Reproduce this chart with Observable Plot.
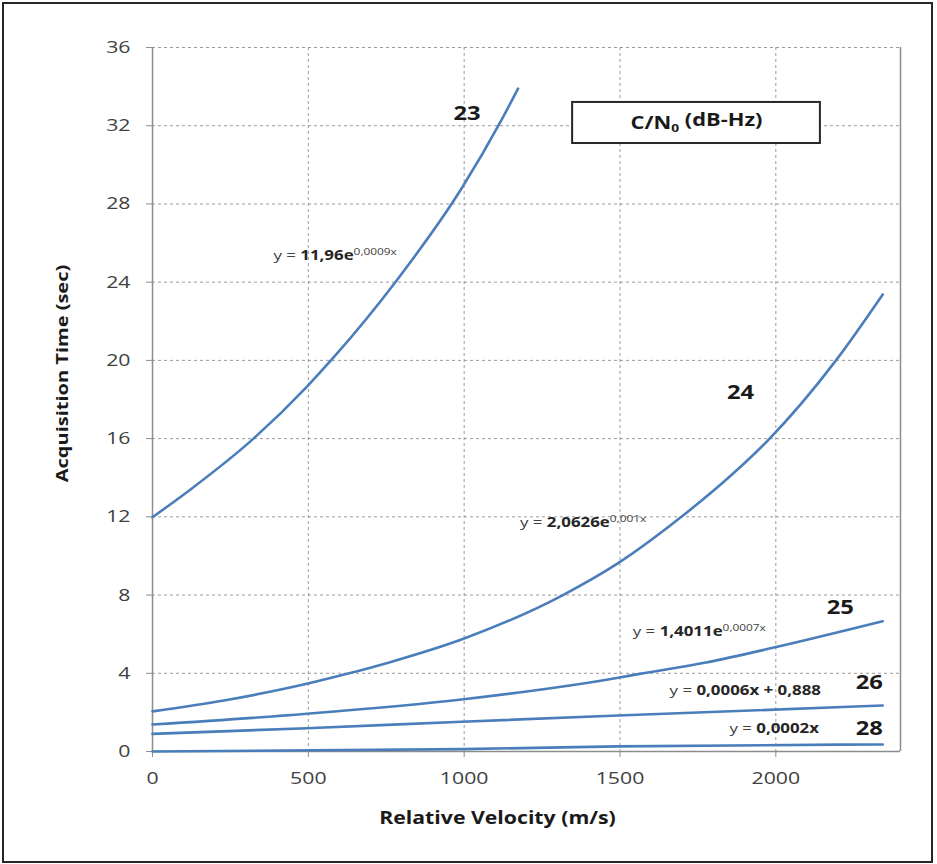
<!DOCTYPE html>
<html>
<head>
<meta charset="utf-8">
<script src="https://cdn.jsdelivr.net/npm/d3@7"></script>
<script src="https://cdn.jsdelivr.net/npm/@observablehq/plot@0.6"></script>
<style>
  html, body { margin: 0; padding: 0; background: #fff; }
  #wrap { position: relative; width: 937px; height: 864px; }
  #frame { position: absolute; left: 2px; top: 2px; width: 927px; height: 857px; border: 2px solid #262626; pointer-events: none; }
</style>
</head>
<body>
<div id="wrap"><div id="frame"></div></div>
<script>
// ---- data ----
const seriesNames = ["23", "24", "25", "26", "28"];
const vel23 = [0, 122, 324, 495, 581, 784, 992, 1120, 1173];
const time23 = [11.98, 13.4, 16.0, 18.65, 20.15, 24.1, 28.8, 32.3, 33.9];
const vel24 = [0, 229, 495, 624, 762, 1000, 1317, 1494, 1697, 1862, 1974, 2193, 2343];
const time24 = [2.05, 2.61, 3.46, 3.97, 4.57, 5.78, 8.0, 9.63, 12.0, 14.2, 15.9, 20.0, 23.37];
const vel25 = [0, 495, 992, 1494, 1563, 1776, 1990, 2343];
const time25 = [1.38, 1.93, 2.66, 3.77, 3.97, 4.55, 5.3, 6.66];
const vel26 = [0, 495, 992, 1494, 2343];
const time26 = [0.90, 1.19, 1.52, 1.84, 2.35];
const vel28 = [0, 992, 1494, 2343];
const time28 = [0, 0.12, 0.26, 0.36];

const xTicks = [0, 500, 1000, 1500, 2000];
const yTicks = [0, 4, 8, 12, 16, 20, 24, 28, 32, 36];

// series name labels (data coordinates)
const nameLabelX = [1009, 1887, 2207, 2300, 2300];
const nameLabelY = [32.6, 18.36, 7.36, 3.53, 1.18];

// trendline equations
const eqPrefix = ["y = ", "y = ", "y = ", "y = ", "y = "];
const eqMain = ["11,96e", "2,0626e", "1,4011e", "0,0006x + 0,888", "0,0002x"];
const eqSup = ["0,0009x", "0,001x", "0,0007x", "", ""];
const eqX = [388, 1179, 1541, 1659, 1851];
const eqY = [25.36, 11.71, 6.14, 3.12, 1.18];

const legendTitle = "C/N0 (dB-Hz)";
const legendX = [1348, 2143];
const legendY = [31.09, 33.19];

const xLabel = "Relative Velocity (m/s)";
const yLabel = "Acquisition Time (sec)";

// ---- build tidy table ----
const allV = [vel23, vel24, vel25, vel26, vel28];
const allT = [time23, time24, time25, time26, time28];
const rows = [];
seriesNames.forEach((s, k) => allV[k].forEach((v, i) => rows.push({series: s, v, t: allT[k][i]})));

const eqFull = eqPrefix.map((p, i) => p + eqMain[i] + eqSup[i]);
const idx5 = d3.range(5);

const FONT = "'Open Sans', Lato, sans-serif";
const blue = "#4a7ebb";

const chart = Plot.plot({
  width: 937,
  height: 864,
  marginLeft: 152,
  marginRight: 37,
  marginTop: 47,
  marginBottom: 113,
  style: {fontFamily: FONT, color: "#404040", background: "#fff"},
  x: {domain: [0, 2400]},
  y: {domain: [0, 36]},
  marks: [
    Plot.gridX(xTicks.filter(d => d > 0), {stroke: "#9a9a9a", strokeOpacity: 1, strokeDasharray: "3,3", strokeWidth: 1}),
    Plot.gridY(yTicks.filter(d => d > 0), {stroke: "#9a9a9a", strokeOpacity: 1, strokeDasharray: "3,3", strokeWidth: 1}),
    Plot.ruleX([2400], {stroke: "#8c8c8c", strokeWidth: 1.5}),
    Plot.ruleX([0], {stroke: "#8c8c8c", strokeWidth: 1.5}),
    Plot.ruleY([0], {stroke: "#8c8c8c", strokeWidth: 1.5}),
    Plot.axisX({ticks: xTicks, tickFormat: d => String(d), tickSize: 6, tickPadding: 14, fontSize: 17, stroke: "#8c8c8c", label: null, fill: "#404040"}),
    Plot.axisY({ticks: yTicks, tickFormat: d => String(d), tickSize: 6, tickPadding: 16, fontSize: 17, stroke: "#8c8c8c", label: null, fill: "#404040"}),
    Plot.line(rows, {x: "v", y: "t", z: "series", stroke: blue, strokeWidth: 2.6, curve: "monotone-x"}),
    Plot.text(idx5, {x: i => nameLabelX[i], y: i => nameLabelY[i], text: i => seriesNames[i], fontSize: 19, fontWeight: "bold", fill: "#1a1a1a"}),
    Plot.text(idx5, {x: i => eqX[i], y: i => eqY[i], text: i => eqFull[i], textAnchor: "start", fontSize: 13.5, fill: "#404040"}),
    Plot.rect([0], {x1: legendX[0], x2: legendX[1], y1: legendY[0], y2: legendY[1], fill: "#fff", stroke: "#262626", strokeWidth: 2}),
    Plot.text([legendTitle], {x: (legendX[0] + legendX[1]) / 2, y: (legendY[0] + legendY[1]) / 2, fontSize: 17.5, fontWeight: "bold", fill: "#1a1a1a"}),
    Plot.text([xLabel], {frameAnchor: "bottom", textAnchor: "middle", dx: -29, dy: 72, fontSize: 17, fontWeight: "bold", fill: "#1a1a1a"}),
    Plot.text([yLabel], {frameAnchor: "left", textAnchor: "middle", dx: -90, dy: -26, rotate: -90, fontSize: 16, fontWeight: "bold", fill: "#1a1a1a"})
  ]
});

// rich text: bold mantissa, superscript exponent, subscript 0
d3.select(chart).selectAll("text").each(function() {
  const t = this.textContent;
  const i = eqFull.indexOf(t);
  const sel = d3.select(this);
  if (i >= 0) {
    sel.text(null);
    sel.append("tspan").text(eqPrefix[i]);
    sel.append("tspan").attr("font-weight", "bold").attr("fill", "#262626").text(eqMain[i]);
    if (eqSup[i]) sel.append("tspan").attr("font-size", 9.5).attr("dy", "-0.55em").text(eqSup[i]);
  } else if (t === legendTitle) {
    sel.text(null);
    sel.append("tspan").text("C/N");
    sel.append("tspan").attr("font-size", 11).attr("dy", "0.35em").text("0");
    sel.append("tspan").attr("dy", "-0.35em").text(" (dB-Hz)");
  }
});

// the reference's lettering is horizontally stretched: widen glyphs about each anchor
d3.select(chart).selectAll("text").each(function() {
  const tr = this.getAttribute("transform");
  if (tr !== null) this.setAttribute("transform", tr + " scale(1.25,1)");
});

document.getElementById("wrap").insertBefore(chart, document.getElementById("frame"));
</script>
</body>
</html>
